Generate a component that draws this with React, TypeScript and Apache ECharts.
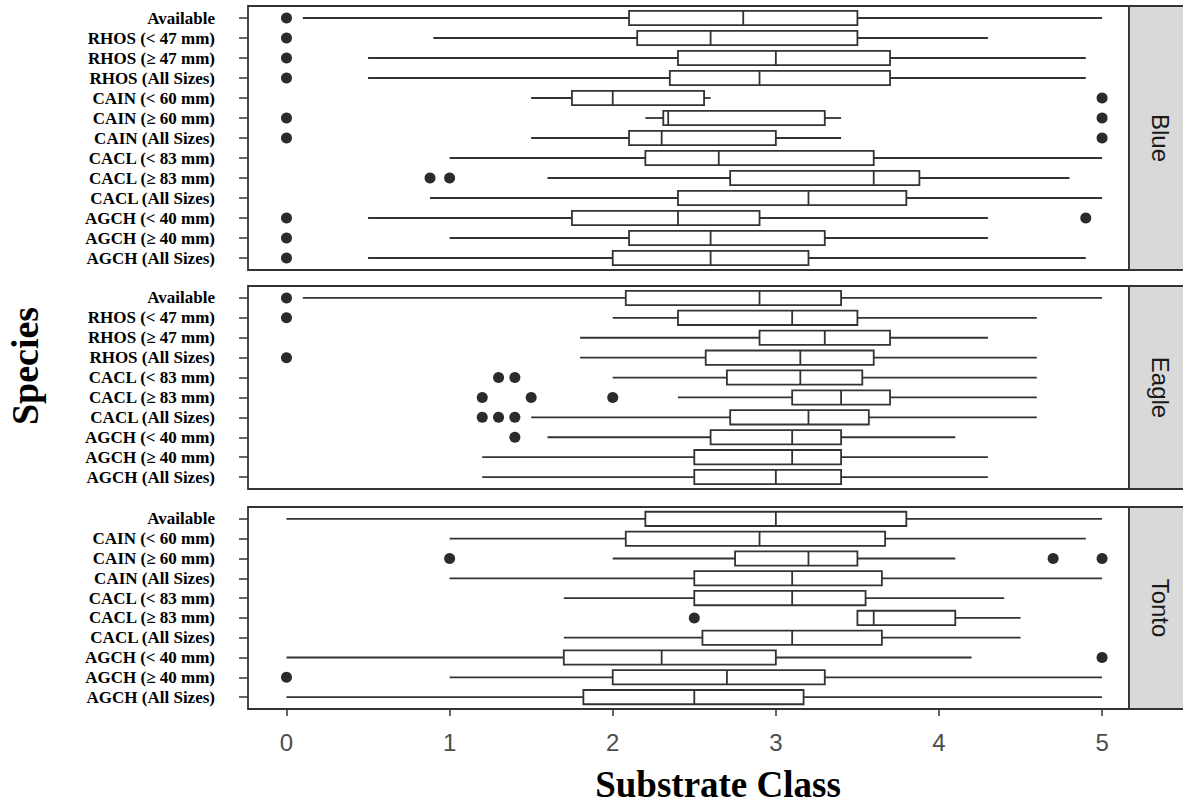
import React, { useEffect, useRef } from "react";
import * as echarts from "echarts";

const xTicks = [0, 1, 2, 3, 4, 5];

// Blue panel
const blueLabels = [
  "Available",
  "RHOS (< 47 mm)",
  "RHOS (≥ 47 mm)",
  "RHOS (All Sizes)",
  "CAIN (< 60 mm)",
  "CAIN (≥ 60 mm)",
  "CAIN (All Sizes)",
  "CACL (< 83 mm)",
  "CACL (≥ 83 mm)",
  "CACL (All Sizes)",
  "AGCH (< 40 mm)",
  "AGCH (≥ 40 mm)",
  "AGCH (All Sizes)",
];
// [lower whisker, Q1, median, Q3, upper whisker]
const blueStats = [
  [0.1, 2.1, 2.8, 3.5, 5.0],
  [0.9, 2.15, 2.6, 3.5, 4.3],
  [0.5, 2.4, 3.0, 3.7, 4.9],
  [0.5, 2.35, 2.9, 3.7, 4.9],
  [1.5, 1.75, 2.0, 2.56, 2.6],
  [2.2, 2.31, 2.34, 3.3, 3.4],
  [1.5, 2.1, 2.3, 3.0, 3.4],
  [1.0, 2.2, 2.65, 3.6, 5.0],
  [1.6, 2.72, 3.6, 3.88, 4.8],
  [0.88, 2.4, 3.2, 3.8, 5.0],
  [0.5, 1.75, 2.4, 2.9, 4.3],
  [1.0, 2.1, 2.6, 3.3, 4.3],
  [0.5, 2.0, 2.6, 3.2, 4.9],
];
// [row index, value]
const blueOutliers = [
  [0, 0], [1, 0], [2, 0], [3, 0],
  [4, 5],
  [5, 0], [5, 5],
  [6, 0], [6, 5],
  [8, 0.88], [8, 1.0],
  [10, 0], [10, 4.9],
  [11, 0], [12, 0],
];

// Eagle panel
const eagleLabels = [
  "Available",
  "RHOS (< 47 mm)",
  "RHOS (≥ 47 mm)",
  "RHOS (All Sizes)",
  "CACL (< 83 mm)",
  "CACL (≥ 83 mm)",
  "CACL (All Sizes)",
  "AGCH (< 40 mm)",
  "AGCH (≥ 40 mm)",
  "AGCH (All Sizes)",
];
const eagleStats = [
  [0.1, 2.08, 2.9, 3.4, 5.0],
  [2.0, 2.4, 3.1, 3.5, 4.6],
  [1.8, 2.9, 3.3, 3.7, 4.3],
  [1.8, 2.57, 3.15, 3.6, 4.6],
  [2.0, 2.7, 3.15, 3.53, 4.6],
  [2.4, 3.1, 3.4, 3.7, 4.6],
  [1.5, 2.72, 3.2, 3.57, 4.6],
  [1.6, 2.6, 3.1, 3.4, 4.1],
  [1.2, 2.5, 3.1, 3.4, 4.3],
  [1.2, 2.5, 3.0, 3.4, 4.3],
];
const eagleOutliers = [
  [0, 0], [1, 0], [3, 0],
  [4, 1.3], [4, 1.4],
  [5, 1.2], [5, 1.5], [5, 2.0],
  [6, 1.2], [6, 1.3], [6, 1.4],
  [7, 1.4],
];

// Tonto panel
const tontoLabels = [
  "Available",
  "CAIN (< 60 mm)",
  "CAIN (≥ 60 mm)",
  "CAIN (All Sizes)",
  "CACL (< 83 mm)",
  "CACL (≥ 83 mm)",
  "CACL (All Sizes)",
  "AGCH (< 40 mm)",
  "AGCH (≥ 40 mm)",
  "AGCH (All Sizes)",
];
const tontoStats = [
  [0, 2.2, 3.0, 3.8, 5.0],
  [1.0, 2.08, 2.9, 3.67, 4.9],
  [2.0, 2.75, 3.2, 3.5, 4.1],
  [1.0, 2.5, 3.1, 3.65, 5.0],
  [1.7, 2.5, 3.1, 3.55, 4.4],
  [3.5, 3.5, 3.6, 4.1, 4.5],
  [1.7, 2.55, 3.1, 3.65, 4.5],
  [0, 1.7, 2.3, 3.0, 4.2],
  [1.0, 2.0, 2.7, 3.3, 5.0],
  [0, 1.82, 2.5, 3.17, 5.0],
];
const tontoOutliers = [
  [2, 1.0], [2, 4.7], [2, 5.0],
  [5, 2.5],
  [7, 5.0],
  [8, 0],
];

const panelNames = ["Blue", "Eagle", "Tonto"];

const LINE = "#333333";

export default function App() {
  const ref = useRef<HTMLDivElement>(null);

  useEffect(() => {
    if (!ref.current) return;
    const chart = echarts.init(ref.current, undefined, { renderer: "svg" });

    const panels = [
      { name: panelNames[0], labels: blueLabels, stats: blueStats, outliers: blueOutliers, top: 6, height: 264 },
      { name: panelNames[1], labels: eagleLabels, stats: eagleStats, outliers: eagleOutliers, top: 286, height: 203 },
      { name: panelNames[2], labels: tontoLabels, stats: tontoStats, outliers: tontoOutliers, top: 507, height: 202 },
    ];

    const gridLeft = 248;
    const gridRight = 1129;

    const renderItem = (params: any, api: any) => {
      const k = api.value(0);
      const lo = api.coord([api.value(1), k]);
      const q1 = api.coord([api.value(2), k]);
      const md = api.coord([api.value(3), k]);
      const q3 = api.coord([api.value(4), k]);
      const hi = api.coord([api.value(5), k]);
      const band = Math.abs(api.size([0, 1])[1]);
      const h = band * 0.72;
      const y = q1[1];
      const ls = { stroke: LINE, lineWidth: 1.8, fill: null };
      return {
        type: "group",
        children: [
          { type: "line", shape: { x1: lo[0], y1: y, x2: q1[0], y2: y }, style: ls },
          { type: "line", shape: { x1: q3[0], y1: y, x2: hi[0], y2: y }, style: ls },
          {
            type: "rect",
            shape: { x: q1[0], y: y - h / 2, width: q3[0] - q1[0], height: h },
            style: { stroke: LINE, lineWidth: 1.8, fill: "#ffffff" },
          },
          { type: "line", shape: { x1: md[0], y1: y - h / 2, x2: md[0], y2: y + h / 2 }, style: ls },
        ],
      };
    };

    const graphic: any[] = [];
    panels.forEach((p) => {
      graphic.push({
        type: "rect",
        shape: { x: gridRight, y: p.top, width: 70, height: p.height },
        style: { fill: "#d9d9d9", stroke: "#333333", lineWidth: 1.8 },
        z: 1,
      });
      graphic.push({
        type: "text",
        x: 1160,
        y: p.top + p.height / 2,
        rotation: -Math.PI / 2,
        style: {
          text: p.name,
          fill: "#1a1a1a",
          font: "24px 'Liberation Sans', Arial, sans-serif",
          align: "center",
          verticalAlign: "middle",
        },
        z: 2,
      });
    });
    graphic.push({
      type: "text",
      x: 25,
      y: 366,
      rotation: Math.PI / 2,
      style: {
        text: "Species",
        fill: "#000",
        font: "bold 38px 'Liberation Serif', 'Times New Roman', serif",
        align: "center",
        verticalAlign: "middle",
      },
    });
    graphic.push({
      type: "text",
      x: 718,
      y: 784,
      style: {
        text: "Substrate Class",
        fill: "#000",
        font: "bold 37px 'Liberation Serif', 'Times New Roman', serif",
        align: "center",
        verticalAlign: "middle",
      },
    });

    const option: any = {
      animation: false,
      backgroundColor: "#ffffff",
      grid: panels.map((p) => ({
        left: gridLeft,
        width: gridRight - gridLeft,
        top: p.top,
        height: p.height,
        show: true,
        borderColor: "#333333",
        borderWidth: 1.8,
        backgroundColor: "#ffffff",
      })),
      xAxis: panels.map((p, i) => ({
        type: "value",
        gridIndex: i,
        position: "bottom",
        min: -0.236,
        max: 5.165,
        splitLine: { show: false },
        axisLine: { show: false, onZero: false },
        axisTick: {
          show: i === 2,
          length: 7,
          customValues: xTicks,
          lineStyle: { color: "#333333", width: 1.5 },
        },
        axisLabel: {
          show: i === 2,
          customValues: xTicks,
          color: "#4d4d4d",
          fontSize: 24,
          fontFamily: "'Liberation Sans', Arial, sans-serif",
          margin: 21,
          formatter: (v: number) => String(Math.round(v)),
        },
      })),
      yAxis: panels.map((p, i) => ({
        type: "value",
        gridIndex: i,
        position: "left",
        inverse: true,
        min: -0.6,
        max: p.labels.length - 0.4,
        splitLine: { show: false },
        axisLine: { show: false, onZero: false },
        axisTick: {
          show: true,
          length: 9,
          customValues: p.labels.map((_, k) => k),
          lineStyle: { color: "#333333", width: 1.5 },
        },
        axisLabel: {
          customValues: p.labels.map((_, k) => k),
          formatter: (v: number) => p.labels[Math.round(v)] ?? "",
          color: "#000000",
          fontSize: 17,
          fontWeight: "bold",
          fontFamily: "'Liberation Serif', 'Times New Roman', serif",
          margin: 33,
          padding: [6, 0, 0, 0],
        },
      })),
      series: panels.flatMap((p, i) => [
        {
          type: "custom",
          xAxisIndex: i,
          yAxisIndex: i,
          renderItem,
          encode: { x: [1, 2, 3, 4, 5], y: 0 },
          data: p.stats.map((s, k) => [k, ...s]),
          silent: true,
          z: 3,
        },
        {
          type: "scatter",
          xAxisIndex: i,
          yAxisIndex: i,
          data: p.outliers.map(([k, v]) => [v, k]),
          symbol: "circle",
          symbolSize: 11,
          itemStyle: { color: "#2b2b2b", opacity: 1 },
          silent: true,
          z: 4,
        },
      ]),
      graphic,
    };

    chart.setOption(option);
    return () => chart.dispose();
  }, []);

  return (
    <div
      ref={ref}
      style={{ position: "absolute", left: 0, top: 0, width: 1183, height: 803 }}
    />
  );
}
